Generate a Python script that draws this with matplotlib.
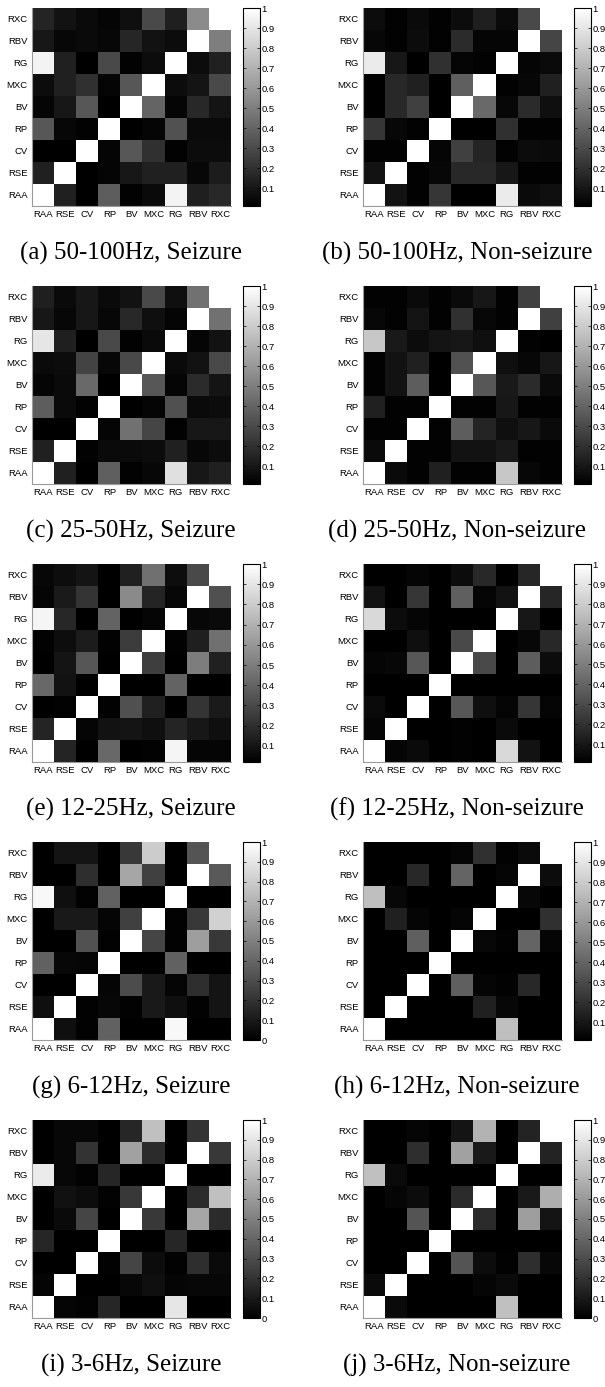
import matplotlib
matplotlib.use("Agg")
import matplotlib.pyplot as plt
import numpy as np
from matplotlib.ticker import FormatStrFormatter

labels = ["RAA", "RSE", "CV", "RP", "BV", "MXC", "RG", "RBV", "RXC"]

captions = [
    "(a) 50-100Hz, Seizure",
    "(b) 50-100Hz, Non-seizure",
    "(c) 25-50Hz, Seizure",
    "(d) 25-50Hz, Non-seizure",
    "(e) 12-25Hz, Seizure",
    "(f) 12-25Hz, Non-seizure",
    "(g) 6-12Hz, Seizure",
    "(h) 6-12Hz, Non-seizure",
    "(i) 3-6Hz, Seizure",
    "(j) 3-6Hz, Non-seizure",
]

# rows listed top (RXC) to bottom (RAA), columns RAA..RXC
mat_a = [
    [0.15, 0.08, 0.05, 0.03, 0.07, 0.30, 0.13, 0.55, 1.00],
    [0.10, 0.04, 0.05, 0.04, 0.16, 0.08, 0.06, 1.00, 0.50],
    [0.95, 0.14, 0.01, 0.30, 0.02, 0.06, 1.00, 0.06, 0.14],
    [0.06, 0.14, 0.20, 0.03, 0.35, 1.00, 0.06, 0.09, 0.30],
    [0.03, 0.10, 0.35, 0.01, 1.00, 0.40, 0.03, 0.17, 0.09],
    [0.35, 0.04, 0.02, 1.00, 0.01, 0.03, 0.33, 0.05, 0.05],
    [0.01, 0.01, 1.00, 0.03, 0.35, 0.20, 0.02, 0.06, 0.06],
    [0.14, 1.00, 0.01, 0.03, 0.10, 0.14, 0.14, 0.04, 0.12],
    [1.00, 0.14, 0.01, 0.37, 0.02, 0.05, 0.95, 0.13, 0.17],
]

mat_b = [
    [0.06, 0.02, 0.05, 0.02, 0.06, 0.13, 0.05, 0.30, 1.00],
    [0.04, 0.02, 0.06, 0.02, 0.18, 0.03, 0.03, 1.00, 0.28],
    [0.92, 0.10, 0.01, 0.20, 0.03, 0.02, 1.00, 0.03, 0.05],
    [0.01, 0.17, 0.14, 0.01, 0.38, 1.00, 0.02, 0.04, 0.14],
    [0.01, 0.17, 0.26, 0.01, 1.00, 0.42, 0.04, 0.18, 0.07],
    [0.22, 0.04, 0.02, 1.00, 0.01, 0.01, 0.20, 0.02, 0.02],
    [0.02, 0.02, 1.00, 0.03, 0.26, 0.15, 0.02, 0.06, 0.05],
    [0.08, 1.00, 0.02, 0.04, 0.17, 0.17, 0.10, 0.02, 0.02],
    [1.00, 0.08, 0.02, 0.22, 0.01, 0.01, 0.92, 0.05, 0.07],
]

mat_c = [
    [0.13, 0.05, 0.10, 0.05, 0.08, 0.30, 0.07, 0.45, 1.00],
    [0.10, 0.04, 0.10, 0.04, 0.17, 0.07, 0.03, 1.00, 0.45],
    [0.90, 0.13, 0.01, 0.30, 0.02, 0.05, 1.00, 0.03, 0.08],
    [0.05, 0.06, 0.27, 0.04, 0.30, 1.00, 0.05, 0.08, 0.30],
    [0.03, 0.05, 0.42, 0.01, 1.00, 0.35, 0.03, 0.18, 0.09],
    [0.37, 0.05, 0.02, 1.00, 0.01, 0.03, 0.32, 0.05, 0.06],
    [0.01, 0.01, 1.00, 0.03, 0.45, 0.28, 0.02, 0.10, 0.10],
    [0.14, 1.00, 0.02, 0.05, 0.05, 0.06, 0.14, 0.04, 0.06],
    [1.00, 0.14, 0.01, 0.38, 0.02, 0.04, 0.88, 0.10, 0.14],
]

mat_d = [
    [0.02, 0.02, 0.05, 0.02, 0.05, 0.10, 0.02, 0.26, 1.00],
    [0.04, 0.02, 0.09, 0.02, 0.20, 0.04, 0.02, 1.00, 0.26],
    [0.78, 0.11, 0.06, 0.09, 0.10, 0.07, 1.00, 0.02, 0.01],
    [0.02, 0.08, 0.14, 0.01, 0.33, 1.00, 0.07, 0.04, 0.10],
    [0.02, 0.08, 0.37, 0.01, 1.00, 0.35, 0.11, 0.18, 0.05],
    [0.14, 0.02, 0.02, 1.00, 0.02, 0.02, 0.10, 0.02, 0.02],
    [0.02, 0.02, 1.00, 0.02, 0.37, 0.15, 0.07, 0.10, 0.05],
    [0.05, 1.00, 0.02, 0.02, 0.08, 0.08, 0.11, 0.02, 0.02],
    [1.00, 0.05, 0.02, 0.14, 0.02, 0.02, 0.78, 0.04, 0.02],
]

mat_e = [
    [0.05, 0.07, 0.10, 0.02, 0.15, 0.45, 0.07, 0.30, 1.00],
    [0.04, 0.12, 0.22, 0.02, 0.55, 0.16, 0.05, 1.00, 0.33],
    [0.96, 0.17, 0.02, 0.40, 0.02, 0.04, 1.00, 0.05, 0.06],
    [0.03, 0.07, 0.13, 0.03, 0.25, 1.00, 0.03, 0.14, 0.45],
    [0.02, 0.10, 0.35, 0.02, 1.00, 0.26, 0.02, 0.50, 0.15],
    [0.42, 0.09, 0.02, 1.00, 0.02, 0.02, 0.40, 0.02, 0.02],
    [0.02, 0.03, 1.00, 0.03, 0.33, 0.15, 0.02, 0.22, 0.12],
    [0.16, 1.00, 0.04, 0.09, 0.10, 0.08, 0.16, 0.11, 0.08],
    [1.00, 0.16, 0.02, 0.42, 0.02, 0.03, 0.96, 0.04, 0.04],
]

mat_f = [
    [0.01, 0.01, 0.03, 0.01, 0.06, 0.17, 0.01, 0.16, 1.00],
    [0.08, 0.01, 0.22, 0.01, 0.38, 0.03, 0.08, 1.00, 0.16],
    [0.85, 0.06, 0.03, 0.01, 0.01, 0.01, 1.00, 0.10, 0.01],
    [0.01, 0.01, 0.07, 0.01, 0.30, 1.00, 0.01, 0.04, 0.17],
    [0.03, 0.04, 0.35, 0.01, 1.00, 0.30, 0.01, 0.37, 0.06],
    [0.01, 0.01, 0.01, 1.00, 0.01, 0.01, 0.01, 0.01, 0.01],
    [0.05, 0.01, 1.00, 0.01, 0.35, 0.07, 0.03, 0.22, 0.03],
    [0.03, 1.00, 0.01, 0.01, 0.02, 0.01, 0.05, 0.01, 0.01],
    [1.00, 0.03, 0.05, 0.01, 0.02, 0.01, 0.85, 0.08, 0.01],
]

mat_g = [
    [0.00, 0.08, 0.08, 0.00, 0.22, 0.80, 0.00, 0.33, 1.00],
    [0.00, 0.00, 0.18, 0.00, 0.65, 0.25, 0.00, 1.00, 0.35],
    [0.97, 0.06, 0.01, 0.38, 0.00, 0.00, 1.00, 0.00, 0.00],
    [0.00, 0.10, 0.10, 0.02, 0.25, 1.00, 0.01, 0.22, 0.82],
    [0.00, 0.00, 0.32, 0.01, 1.00, 0.27, 0.01, 0.62, 0.22],
    [0.38, 0.03, 0.02, 1.00, 0.00, 0.00, 0.38, 0.00, 0.00],
    [0.00, 0.00, 1.00, 0.02, 0.30, 0.10, 0.02, 0.18, 0.08],
    [0.06, 1.00, 0.01, 0.03, 0.01, 0.10, 0.06, 0.01, 0.08],
    [1.00, 0.06, 0.01, 0.38, 0.00, 0.00, 0.97, 0.00, 0.00],
]

mat_h = [
    [0.01, 0.01, 0.01, 0.01, 0.03, 0.20, 0.02, 0.05, 1.00],
    [0.01, 0.01, 0.17, 0.01, 0.40, 0.01, 0.03, 1.00, 0.06],
    [0.75, 0.04, 0.01, 0.01, 0.01, 0.01, 1.00, 0.04, 0.01],
    [0.01, 0.14, 0.03, 0.01, 0.03, 1.00, 0.01, 0.01, 0.20],
    [0.01, 0.01, 0.38, 0.01, 1.00, 0.04, 0.02, 0.40, 0.03],
    [0.01, 0.01, 0.01, 1.00, 0.01, 0.01, 0.01, 0.01, 0.01],
    [0.01, 0.01, 1.00, 0.01, 0.38, 0.03, 0.02, 0.17, 0.01],
    [0.01, 1.00, 0.01, 0.01, 0.01, 0.14, 0.04, 0.01, 0.01],
    [1.00, 0.01, 0.01, 0.01, 0.01, 0.01, 0.75, 0.01, 0.01],
]

mat_i = [
    [0.00, 0.03, 0.03, 0.00, 0.15, 0.75, 0.00, 0.20, 1.00],
    [0.00, 0.03, 0.20, 0.00, 0.63, 0.17, 0.00, 1.00, 0.22],
    [0.92, 0.03, 0.01, 0.15, 0.00, 0.00, 1.00, 0.00, 0.00],
    [0.00, 0.07, 0.05, 0.01, 0.22, 1.00, 0.00, 0.17, 0.75],
    [0.00, 0.04, 0.27, 0.00, 1.00, 0.22, 0.00, 0.65, 0.17],
    [0.15, 0.00, 0.00, 1.00, 0.00, 0.00, 0.15, 0.00, 0.00],
    [0.00, 0.00, 1.00, 0.01, 0.27, 0.05, 0.01, 0.18, 0.04],
    [0.02, 1.00, 0.00, 0.00, 0.03, 0.06, 0.02, 0.03, 0.03],
    [1.00, 0.02, 0.01, 0.15, 0.00, 0.00, 0.90, 0.00, 0.00],
]

mat_j = [
    [0.00, 0.00, 0.02, 0.00, 0.08, 0.70, 0.00, 0.14, 1.00],
    [0.00, 0.00, 0.18, 0.00, 0.63, 0.10, 0.00, 1.00, 0.14],
    [0.75, 0.04, 0.00, 0.00, 0.00, 0.00, 1.00, 0.00, 0.00],
    [0.00, 0.02, 0.05, 0.00, 0.17, 1.00, 0.00, 0.10, 0.68],
    [0.00, 0.00, 0.33, 0.00, 1.00, 0.17, 0.00, 0.62, 0.08],
    [0.00, 0.00, 0.00, 1.00, 0.00, 0.00, 0.00, 0.00, 0.00],
    [0.00, 0.00, 1.00, 0.00, 0.33, 0.05, 0.01, 0.18, 0.03],
    [0.04, 1.00, 0.00, 0.00, 0.00, 0.02, 0.04, 0.00, 0.00],
    [1.00, 0.04, 0.00, 0.00, 0.00, 0.00, 0.75, 0.00, 0.00],
]

matrices = [mat_a, mat_b, mat_c, mat_d, mat_e, mat_f, mat_g, mat_h, mat_i, mat_j]


def main():
    W, H = 605.0, 1387.0
    fig = plt.figure(figsize=(W / 100, H / 100), dpi=100)

    col_x = [32, 363]
    cbar_x = [243, 574]
    cap_x = [131, 457]
    top0, row_step, side, hgt = 8, 278, 199, 198

    for k, mat in enumerate(matrices):
        row, col = divmod(k, 2)
        top = top0 + row * row_step
        data = np.array(mat)

        ax = fig.add_axes([col_x[col] / W, 1 - (top + hgt) / H, side / W, hgt / H])
        im = ax.imshow(data, cmap="gray", aspect="auto", interpolation="nearest")

        ax.set_xticks(range(len(labels)))
        ax.set_xticklabels(labels)
        ax.set_yticks(range(len(labels)))
        ax.set_yticklabels(labels[::-1])
        ax.tick_params(length=0, labelsize=6.8, pad=3)
        for lab in ax.get_xticklabels() + ax.get_yticklabels():
            lab.set_family("Liberation Sans")

        for s in ["top", "right"]:
            ax.spines[s].set_visible(False)
        for s in ["left", "bottom"]:
            ax.spines[s].set_color("#9a9a9a")
            ax.spines[s].set_linewidth(0.8)

        cax = fig.add_axes([cbar_x[col] / W, 1 - (top + hgt) / H, 17 / W, hgt / H])
        cb = fig.colorbar(im, cax=cax)
        ticks = np.round(np.arange(0, 1.01, 0.1), 1)
        ticks = ticks[(ticks >= data.min() - 1e-9) & (ticks <= data.max() + 1e-9)]
        cb.set_ticks(ticks)
        cb.ax.set_ylim(data.min(), data.max())
        cb.ax.yaxis.set_major_formatter(FormatStrFormatter("%g"))
        cb.ax.tick_params(direction="in", length=2, width=0.5,
                          left=True, right=True, labelsize=6.8, pad=1)
        for lab in cb.ax.get_yticklabels():
            lab.set_family("Liberation Sans")
        cb.outline.set_linewidth(0.8)

        fig.text(cap_x[col] / W, 1 - (top + 245) / H, captions[k],
                 ha="center", va="center", fontsize=18,
                 family="Liberation Serif")

    fig.savefig("out.png", dpi=100)


if __name__ == "__main__":
    main()
